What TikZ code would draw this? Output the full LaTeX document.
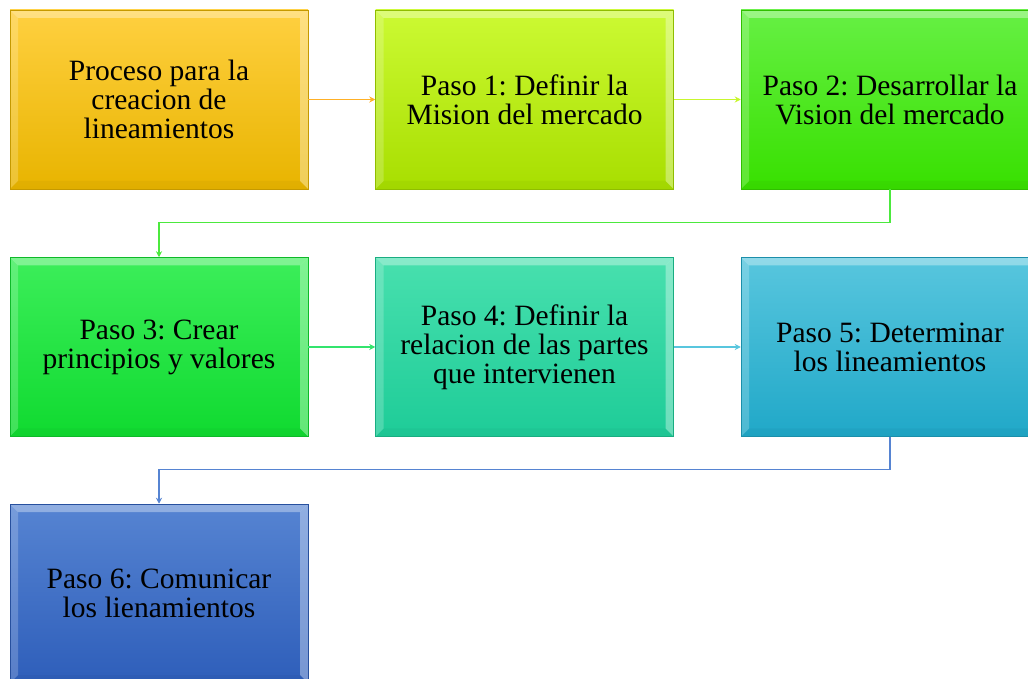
\documentclass[tikz,border=0pt]{standalone}
\usepackage{fontspec}
\setmainfont{Liberation Serif}
\usetikzlibrary{positioning}
\usetikzlibrary{arrows.meta}
\definecolor{oroA}{HTML}{FFD040}
\definecolor{oroB}{HTML}{E8B400}
\definecolor{limaA}{HTML}{CCFA33}
\definecolor{limaB}{HTML}{A8DE00}
\definecolor{verdeA}{HTML}{66F044}
\definecolor{verdeB}{HTML}{38E000}
\definecolor{esmA}{HTML}{3CEE5A}
\definecolor{esmB}{HTML}{10DA30}
\definecolor{aguaA}{HTML}{48E0AE}
\definecolor{aguaB}{HTML}{1ECC98}
\definecolor{cianA}{HTML}{58C6DE}
\definecolor{cianB}{HTML}{20A8C8}
\definecolor{azulA}{HTML}{5684D2}
\definecolor{azulB}{HTML}{2E5EBA}
\tikzset{paso/.style 2 args={minimum width=298pt, minimum height=179pt, inner sep=0pt,
  align=center, top color=#1, bottom color=#2, draw=#2!85!black, line width=0.5pt,
  font=\fontsize{29.5}{29}\selectfont,
  path picture={
   \path (path picture bounding box.north west) coordinate (pnw)
         (path picture bounding box.south east) coordinate (pse);
   \fill[white,opacity=0.35] (pnw) -- (pnw -| pse) -- ++(-8pt,-8pt) -- ++(-282pt,0) -- cycle;
   \fill[white,opacity=0.2] (pnw) -- (pnw |- pse) -- ++(8pt,8pt) -- ++(0,163pt) -- cycle;
   \fill[white,opacity=0.35] (pse) -- (pse |- pnw) -- ++(-8pt,-8pt) -- ++(0,-163pt) -- cycle;
   \fill[black,opacity=0.03] (pse) -- (pse -| pnw) -- ++(8pt,8pt) -- ++(282pt,0) -- cycle;
  }},
 flecha/.style={draw=#1, line width=1.2pt, -{Stealth[length=6pt,width=6pt]}}}

\begin{document}
\frenchspacing
\begin{tikzpicture}[x=1pt,y=1pt]
\useasboundingbox (0,0) rectangle (1028,678);
\clip (0,0) rectangle (1028,678);
% fila 1
\node[paso={oroA}{oroB}] (b1) at (159,578.5) {Proceso para la\\creacion de\\lineamientos};
\node[paso={limaA}{limaB}, right=67pt of b1] (b2) {Paso 1: Definir la\\Mision del mercado};
\node[paso={verdeA}{verdeB}, right=67pt of b2] (b3) {Paso 2: Desarrollar la\\Vision del mercado};
% fila 2
\node[paso={esmA}{esmB}, below=68pt of b1] (b4) {Paso 3: Crear\\principios y valores};
\node[paso={aguaA}{aguaB}, right=67pt of b4] (b5) {Paso 4: Definir la\\relacion de las partes\\que intervienen};
\node[paso={cianA}{cianB}, right=67pt of b5] (b6) {Paso 5: Determinar\\los lineamientos};
% fila 3
\node[paso={azulA}{azulB}, below=67pt of b4] (b7) {Paso 6: Comunicar\\los lienamientos};

\draw[flecha=oroA!60!orange] (b1) -- (b2);
\draw[flecha=limaA!90!limaB] (b2) -- (b3);
\draw[flecha=verdeA!70!esmB] (b3.south) -- ++(0,-33) -| (b4.north);
\draw[flecha=esmA!70!aguaB] (b4) -- (b5);
\draw[flecha=cianA] (b5) -- (b6);
\draw[flecha=azulA] (b6.south) -- ++(0,-33) -| (b7.north);
\end{tikzpicture}
\end{document}
